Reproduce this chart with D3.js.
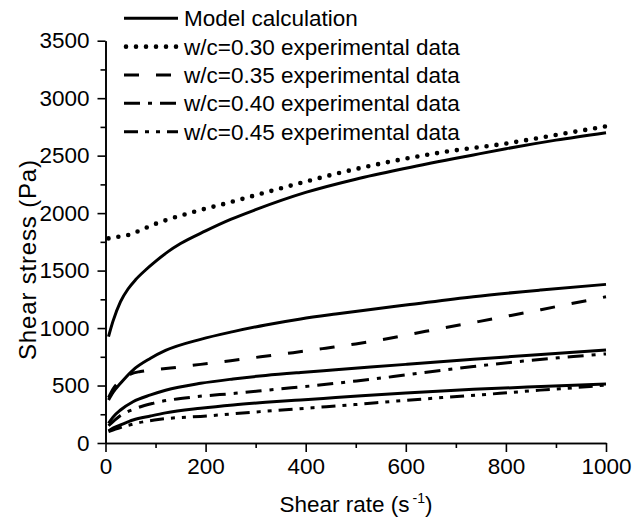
<!DOCTYPE html>
<html><head><meta charset="utf-8">
<script src="https://cdn.jsdelivr.net/npm/d3@7"></script>
<style>
body{margin:0;background:#fff}
svg{display:block}
text{font-family:"Liberation Sans",Arial,Helvetica,sans-serif;fill:#000}
</style>
</head><body>
<svg id="chart" width="632" height="522"></svg>
<script>
// ---------- data ----------
const xMajorTicks = [0, 200, 400, 600, 800, 1000];
const xMinorTicks = [100, 300, 500, 700, 900];
const yMajorTicks = [0, 500, 1000, 1500, 2000, 2500, 3000, 3500];
const yMinorTicks = [250, 750, 1250, 1750, 2250, 2750, 3250];
const xTitle = "Shear rate (s";
const yTitle = "Shear stress (Pa)";
const legendLabels = [
  "Model calculation",
  "w/c=0.30 experimental data",
  "w/c=0.35 experimental data",
  "w/c=0.40 experimental data",
  "w/c=0.45 experimental data"
];

// model calculations (solid)
const model030Rate   = [6, 15, 30, 45, 60, 80, 100, 125, 150, 200, 250, 300, 400, 500, 600, 735, 800, 900, 1000];
const model030Stress = [925, 1060, 1230, 1340, 1420, 1505, 1580, 1665, 1735, 1845, 1945, 2030, 2180, 2295, 2390, 2506, 2560, 2635, 2700];
const model035Rate   = [6, 15, 30, 55, 90, 120, 190, 255, 320, 390, 460, 530, 600, 735, 870, 1000];
const model035Stress = [374, 440, 520, 635, 737, 805, 902, 969, 1027, 1079, 1122, 1162, 1200, 1273, 1331, 1380];
const model040Rate   = [6, 15, 30, 55, 90, 120, 190, 255, 320, 390, 460, 600, 735, 870, 1000];
const model040Stress = [171, 225, 287, 359, 418, 459, 519, 557, 588, 614, 637, 684, 728, 770, 809];
const model045Rate   = [6, 15, 30, 55, 90, 120, 190, 255, 320, 390, 460, 600, 735, 870, 1000];
const model045Stress = [104, 130, 157, 200, 235, 262, 302, 331, 354, 375, 395, 436, 467, 491, 513];

// experimental data
const exp030Rate   = [6, 26, 46, 66, 86, 106, 126, 182, 241, 299, 357, 417, 475, 560, 668, 802, 900, 1000];
const exp030Stress = [1780, 1795, 1810, 1844, 1882, 1917, 1946, 2018, 2085, 2155, 2224, 2294, 2358, 2440, 2526, 2607, 2680, 2755];
const exp035Rate   = [6, 15, 30, 50, 70, 100, 130, 190, 250, 310, 375, 440, 500, 560, 620, 680, 745, 810, 870, 930, 1000];
const exp035Stress = [395, 470, 545, 600, 622, 638, 652, 684, 716, 750, 786, 825, 862, 905, 955, 1005, 1056, 1110, 1160, 1212, 1272];
const exp040Rate   = [6, 30, 60, 95, 182, 259, 339, 419, 495, 575, 635, 735, 835, 935, 1000];
const exp040Stress = [150, 240, 300, 345, 403, 432, 467, 500, 537, 578, 612, 665, 713, 752, 775];
const exp045Rate   = [6, 30, 60, 109, 202, 309, 415, 498, 582, 688, 788, 868, 968, 1000];
const exp045Stress = [100, 135, 170, 206, 235, 273, 307, 334, 365, 400, 432, 460, 492, 505];

// ---------- drawing ----------
const svg = d3.select("#chart");
const x = d3.scaleLinear().domain([0, 1000]).range([105.5, 606]);
const y = d3.scaleLinear().domain([0, 3500]).range([443, 40.7]);

const zip = (a, b) => a.map((v, i) => [v, b[i]]);

const styles = {
  solid:   {dash: null, width: 3, cap: "butt"},
  dotted:  {dash: "0 10", width: 4.6, cap: "round"},
  dashed:  {dash: "15 17", width: 3, cap: "butt"},
  dashdot: {dash: "16 8 4 8", width: 3, cap: "butt"},
  dashdotdot: {dash: "14 7 4 7 4 7", width: 3, cap: "butt"}
};

const series = [
  {rate: model030Rate, stress: model030Stress, style: "solid"},
  {rate: model035Rate, stress: model035Stress, style: "solid"},
  {rate: model040Rate, stress: model040Stress, style: "solid"},
  {rate: model045Rate, stress: model045Stress, style: "solid"},
  {rate: exp030Rate, stress: exp030Stress, style: "dotted"},
  {rate: exp035Rate, stress: exp035Stress, style: "dashed"},
  {rate: exp040Rate, stress: exp040Stress, style: "dashdot"},
  {rate: exp045Rate, stress: exp045Stress, style: "dashdotdot"}
];

const line = d3.line().x(d => x(d[0])).y(d => y(d[1])).curve(d3.curveMonotoneX);

svg.append("g").selectAll("path").data(series).join("path")
  .attr("d", d => line(zip(d.rate, d.stress)))
  .attr("fill", "none")
  .attr("stroke", "#000")
  .attr("stroke-width", d => styles[d.style].width)
  .attr("stroke-linecap", d => styles[d.style].cap)
  .attr("stroke-dasharray", d => styles[d.style].dash);

// axes
function styleAxis(g) {
  g.selectAll("path.domain").attr("stroke", "#000").attr("stroke-width", 1.6);
  g.selectAll(".tick line").attr("stroke", "#000").attr("stroke-width", 1.6);
  g.selectAll(".tick text").style("font-size", "22.5px").attr("fill", "#000");
}
svg.append("g").attr("transform", "translate(0,443)")
  .call(d3.axisBottom(x).tickValues(xMinorTicks).tickSize(5).tickFormat("").tickSizeOuter(0))
  .call(styleAxis);
svg.append("g").attr("transform", "translate(0,443)")
  .call(d3.axisBottom(x).tickValues(xMajorTicks).tickSize(9).tickPadding(6).tickSizeOuter(0).tickFormat(d3.format("d")))
  .call(styleAxis);
svg.append("g").attr("transform", "translate(105.5,0)")
  .call(d3.axisLeft(y).tickValues(yMinorTicks).tickSize(5).tickFormat("").tickSizeOuter(0))
  .call(styleAxis);
svg.append("g").attr("transform", "translate(105.5,0)")
  .call(d3.axisLeft(y).tickValues(yMajorTicks).tickSize(8).tickPadding(8).tickSizeOuter(0).tickFormat(d3.format("d")))
  .call(styleAxis);

// axis titles
const xt = svg.append("text").attr("x", 356).attr("y", 512).attr("text-anchor", "middle").style("font-size", "22.5px");
xt.append("tspan").text(xTitle);
xt.append("tspan").text("-1").attr("dx", 3).attr("dy", -9).style("font-size", "14px");
xt.append("tspan").text(")").attr("dy", 9);

svg.append("text").attr("transform", "translate(36,260) rotate(-90)")
  .attr("text-anchor", "middle").style("font-size", "24px")
  .attr("textLength", 200).attr("lengthAdjust", "spacing").text(yTitle);

// legend
const legendStyles = ["solid", "dotted", "dashed", "dashdot", "dashdotdot"];
const lg = svg.append("g");
const rows = lg.selectAll("g").data(legendLabels).join("g")
  .attr("transform", (d, i) => `translate(0,${18.3 + i * 28.35})`);
rows.append("line").attr("x1", (d, i) => legendStyles[i] === "dotted" ? 126 : 124).attr("x2", 178)
  .attr("y1", 0).attr("y2", 0)
  .attr("stroke", "#000")
  .attr("stroke-width", (d, i) => styles[legendStyles[i]].width)
  .attr("stroke-linecap", (d, i) => styles[legendStyles[i]].cap)
  .attr("stroke-dasharray", (d, i) => styles[legendStyles[i]].dash);
rows.append("text").attr("x", 184).attr("y", 8).style("font-size", "22.5px").text(d => d);
</script>
</body></html>
